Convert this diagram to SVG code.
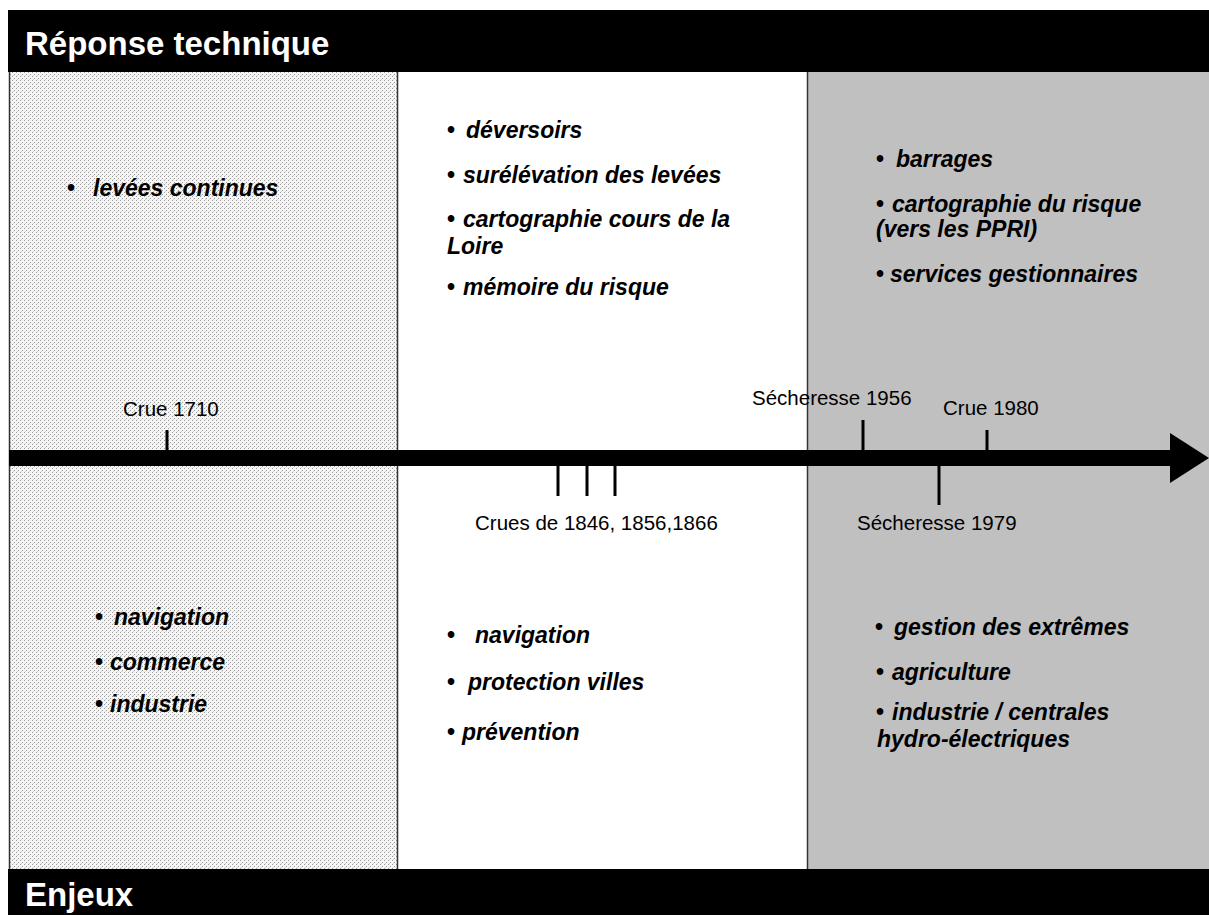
<svg xmlns="http://www.w3.org/2000/svg" width="1209" height="915" viewBox="0 0 1209 915">
<style>
.band{fill:#000}
.hdr{font-family:"Liberation Sans",Arial,sans-serif;font-weight:bold;font-size:33px;fill:#fff}
.it{font-family:"Liberation Sans",Arial,sans-serif;font-weight:bold;font-style:italic;font-size:23px;fill:#000}
.b{font-style:normal}
.lbl{font-family:"Liberation Sans",Arial,sans-serif;font-size:20.5px;fill:#000}
.tick{stroke:#000;stroke-width:3}
.sep{stroke:#333;stroke-width:1.5}
</style>
<defs>
<pattern id="dots" width="4" height="4" patternUnits="userSpaceOnUse">
<rect width="4" height="4" fill="#f6f6f6"/>
<rect x="0" y="0" width="1" height="1" fill="#9a9a9a"/>
<rect x="2" y="2" width="1" height="1" fill="#9a9a9a"/>
<rect x="1" y="3" width="1" height="1" fill="#d4d4d4"/>
</pattern>
</defs>
<rect width="1209" height="915" fill="#fff"/>
<g id="col-left">
<rect x="9" y="72" width="388" height="797" fill="url(#dots)"/>
<line class="sep" x1="9.5" y1="72" x2="9.5" y2="869"/>
</g>
<g id="col-middle">
<rect x="397" y="72" width="410" height="797" fill="#fff"/>
<line class="sep" x1="397.5" y1="72" x2="397.5" y2="869"/>
</g>
<g id="col-right">
<rect x="807" y="72" width="402" height="797" fill="#c0c0c0"/>
<line class="sep" x1="807.5" y1="72" x2="807.5" y2="869"/>
</g>
<g id="header-top">
<rect class="band" x="8" y="10" width="1201" height="62"/>
<text class="hdr" x="25" y="55">Réponse technique</text>
</g>
<g id="header-bottom">
<rect class="band" x="8" y="869" width="1201" height="46"/>
<text class="hdr" x="25" y="906">Enjeux</text>
</g>
<g id="connectors">
<rect x="9" y="450" width="1163" height="16" fill="#000"/>
<polygon points="1170,433 1209,458 1170,483" fill="#000"/>
<line class="tick" x1="167" y1="430" x2="167" y2="450"/>
<line class="tick" x1="558" y1="466" x2="558" y2="496"/>
<line class="tick" x1="587" y1="466" x2="587" y2="496"/>
<line class="tick" x1="615" y1="466" x2="615" y2="496"/>
<line class="tick" x1="863" y1="420" x2="863" y2="450"/>
<line class="tick" x1="987" y1="430" x2="987" y2="450"/>
<line class="tick" x1="939" y1="466" x2="939" y2="505"/>
</g>
<g id="events">
<text class="lbl" x="123" y="416">Crue 1710</text>
<text class="lbl" x="475" y="530">Crues de 1846, 1856,1866</text>
<text class="lbl" x="752" y="405">Sécheresse 1956</text>
<text class="lbl" x="943" y="415">Crue 1980</text>
<text class="lbl" x="857" y="530">Sécheresse 1979</text>
</g>
<g id="reponse-left">
<text class="it" y="196"><tspan class="b" x="67">•</tspan><tspan x="93">levées continues</tspan></text>
</g>
<g id="reponse-middle">
<text class="it" y="138"><tspan class="b" x="447">•</tspan><tspan x="466">déversoirs</tspan></text>
<text class="it" y="183"><tspan class="b" x="447">•</tspan><tspan x="463">surélévation des levées</tspan></text>
<text class="it" y="227"><tspan class="b" x="447">•</tspan><tspan x="463">cartographie cours de la</tspan></text>
<text class="it" x="447" y="254">Loire</text>
<text class="it" y="295"><tspan class="b" x="447">•</tspan><tspan x="463">mémoire du risque</tspan></text>
</g>
<g id="reponse-right">
<text class="it" y="167"><tspan class="b" x="876">•</tspan><tspan x="896">barrages</tspan></text>
<text class="it" y="212"><tspan class="b" x="876">•</tspan><tspan x="892">cartographie du risque</tspan></text>
<text class="it" x="876" y="237">(vers les PPRI)</text>
<text class="it" y="282"><tspan class="b" x="876">•</tspan><tspan x="890">services gestionnaires</tspan></text>
</g>
<g id="enjeux-left">
<text class="it" y="625"><tspan class="b" x="95">•</tspan><tspan x="114">navigation</tspan></text>
<text class="it" y="670"><tspan class="b" x="95">•</tspan><tspan x="110">commerce</tspan></text>
<text class="it" y="712"><tspan class="b" x="95">•</tspan><tspan x="110">industrie</tspan></text>
</g>
<g id="enjeux-middle">
<text class="it" y="643"><tspan class="b" x="447">•</tspan><tspan x="475">navigation</tspan></text>
<text class="it" y="690"><tspan class="b" x="447">•</tspan><tspan x="468">protection villes</tspan></text>
<text class="it" y="740"><tspan class="b" x="447">•</tspan><tspan x="462">prévention</tspan></text>
</g>
<g id="enjeux-right">
<text class="it" y="635"><tspan class="b" x="875">•</tspan><tspan x="894">gestion des extrêmes</tspan></text>
<text class="it" y="680"><tspan class="b" x="876">•</tspan><tspan x="892">agriculture</tspan></text>
<text class="it" y="720"><tspan class="b" x="876">•</tspan><tspan x="892">industrie / centrales</tspan></text>
<text class="it" x="877" y="747">hydro-électriques</text>
</g>
</svg>
